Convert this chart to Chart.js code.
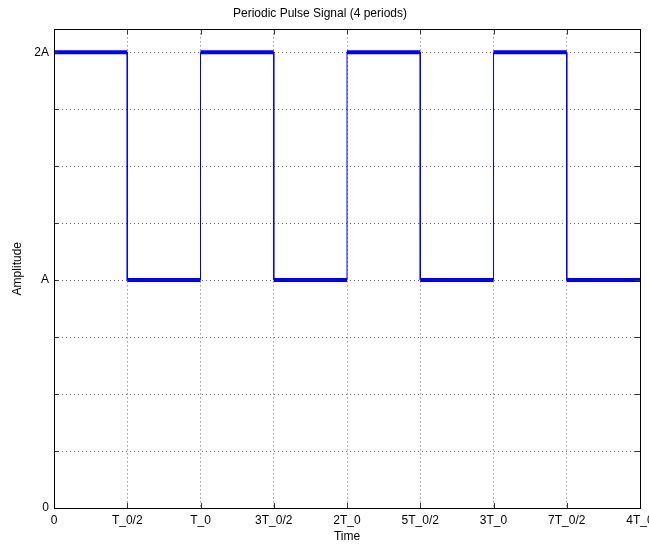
<!DOCTYPE html>
<html>
<head>
<meta charset="utf-8">
<script src="https://cdn.jsdelivr.net/npm/chart.js@4"></script>
<style>
  html, body { margin: 0; padding: 0; background: #fff; overflow: hidden; }
</style>
</head>
<body>
<canvas id="myChart" width="680" height="544"></canvas>
<script>
// time in units of T_0/2, amplitude in units of A
const times  = [0, 1, 1, 2, 2, 3, 3, 4, 4, 5, 5, 6, 6, 7, 7, 8];
const levels = [2, 2, 1, 1, 2, 2, 1, 1, 2, 2, 1, 1, 2, 2, 1, 1];
const xTickLabels = ['0', 'T_0/2', 'T_0', '3T_0/2', '2T_0', '5T_0/2', '3T_0', '7T_0/2', '4T_0'];
const yTickLabels = { 0: '0', 1: 'A', 2: '2A' };

const FONT = 'Liberation Sans, Arial, Helvetica, sans-serif';

// matlab-ish box with inward tick marks
const boxPlugin = {
  id: 'box',
  afterDraw(chart) {
    const { ctx, chartArea: a, scales } = chart;
    ctx.save();
    ctx.strokeStyle = '#333';
    ctx.lineWidth = 1;
    ctx.beginPath();
    scales.x.ticks.forEach(t => {
      const px = Math.round(scales.x.getPixelForValue(t.value)) + 0.5;
      ctx.moveTo(px, a.bottom); ctx.lineTo(px, a.bottom - 5);
      ctx.moveTo(px, a.top); ctx.lineTo(px, a.top + 5);
    });
    scales.y.ticks.forEach(t => {
      const py = Math.round(scales.y.getPixelForValue(t.value)) + 0.5;
      ctx.moveTo(a.left, py); ctx.lineTo(a.left + 5, py);
      ctx.moveTo(a.right, py); ctx.lineTo(a.right - 5, py);
    });
    ctx.stroke();
    ctx.strokeStyle = '#000';
    ctx.strokeRect(Math.round(a.left) + 0.5, Math.round(a.top) + 0.5,
      Math.round(a.right - a.left), Math.round(a.bottom - a.top));
    ctx.restore();
  }
};

const ctx = document.getElementById('myChart').getContext('2d');

new Chart(ctx, {
  type: 'line',
  data: {
    datasets: [{
      label: 'pulse',
      data: times.map((t, i) => ({ x: t, y: levels[i] })),
      borderColor: '#0000ff',
      borderWidth: 4,
      pointRadius: 0,
      tension: 0,
      borderCapStyle: 'butt',
      segment: {
        // vertical edges are thin, levels are thick
        borderWidth: c => c.p0.parsed.x === c.p1.parsed.x ? 1 : 4
      }
    }]
  },
  options: {
    responsive: false,
    animation: false,
    layout: { padding: { right: 40 } },
    plugins: {
      legend: { display: false },
      tooltip: { enabled: false },
      title: {
        display: true,
        text: 'Periodic Pulse Signal (4 periods)',
        color: '#000',
        font: { family: FONT, size: 12, weight: 'normal' },
        padding: { top: 6, bottom: 9 }
      }
    },
    scales: {
      x: {
        type: 'linear',
        min: 0,
        max: 8,
        afterFit: s => { s.height = 36; },
        ticks: {
          stepSize: 1,
          autoSkip: false,
          maxRotation: 0,
          padding: 5,
          color: '#000',
          font: { family: FONT, size: 12 },
          callback: v => xTickLabels[v] ?? ''
        },
        grid: { color: '#666', drawTicks: false },
        border: { display: false, dash: [1, 3] },
        title: {
          display: true,
          text: 'Time',
          color: '#000',
          font: { family: FONT, size: 12 },
          padding: { top: 0, bottom: 0 }
        }
      },
      y: {
        min: 0,
        max: 2.1,
        afterFit: s => { s.width = 54; },
        ticks: {
          stepSize: 0.25,
          includeBounds: false,
          autoSkip: false,
          padding: 5,
          color: '#000',
          font: { family: FONT, size: 12 },
          callback: v => yTickLabels[v] ?? ''
        },
        grid: { color: '#666', drawTicks: false },
        border: { display: false, dash: [1, 3] },
        title: {
          display: true,
          text: 'Amplitude',
          color: '#000',
          font: { family: FONT, size: 12 },
          padding: { top: 10, bottom: 0 }
        }
      }
    }
  },
  plugins: [boxPlugin]
});
</script>
</body>
</html>
